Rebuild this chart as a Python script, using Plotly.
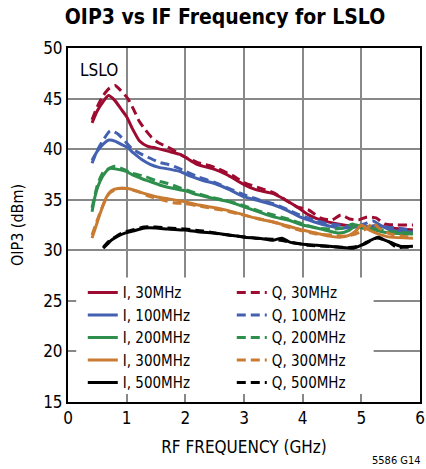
import plotly.graph_objects as go

# ---- data ----
x_i30 = [0.41, 0.5, 0.6, 0.69, 0.8, 0.9, 1.0, 1.1, 1.22, 1.35, 1.5, 1.7, 1.9, 2.0, 2.2, 2.5, 2.7, 3.0, 3.2, 3.5, 3.7, 3.9, 4.1, 4.3, 4.6, 5.0, 5.3, 5.5, 5.88]
y_i30 = [42.6, 43.8, 44.7, 45.3, 44.8, 44.0, 43.2, 42.0, 40.8, 40.3, 40.1, 39.8, 39.5, 39.2, 38.5, 38.0, 37.5, 36.5, 36.0, 35.6, 35.0, 34.3, 33.5, 33.0, 32.6, 32.3, 32.4, 32.2, 32.0]

x_q30 = [0.41, 0.5, 0.6, 0.7, 0.8, 0.9, 1.02, 1.12, 1.22, 1.32, 1.42, 1.55, 1.7, 1.85, 2.0, 2.2, 2.5, 2.8, 3.0, 3.3, 3.5, 3.7, 3.9, 4.1, 4.3, 4.5, 4.65, 4.8, 4.95, 5.1, 5.25, 5.4, 5.6, 5.88]
y_q30 = [42.9, 44.2, 45.3, 46.0, 46.3, 45.8, 45.0, 43.9, 42.7, 41.9, 41.2, 40.6, 40.2, 39.7, 39.2, 38.7, 38.2, 37.4, 36.7, 36.1, 35.7, 35.0, 34.3, 34.0, 33.2, 33.0, 33.5, 33.1, 33.0, 33.3, 33.2, 32.6, 32.5, 32.5]

x_i100 = [0.41, 0.5, 0.6, 0.7, 0.8, 0.9, 1.0, 1.12, 1.25, 1.4, 1.55, 1.75, 1.9, 2.1, 2.3, 2.5, 2.75, 3.0, 3.25, 3.5, 3.75, 3.95, 4.2, 4.45, 4.65, 4.9, 5.1, 5.3, 5.5, 5.88]
y_i100 = [38.9, 39.8, 40.5, 40.9, 40.8, 40.5, 40.2, 39.6, 39.0, 38.5, 38.2, 38.0, 37.8, 37.3, 36.9, 36.6, 36.0, 35.3, 34.9, 34.5, 33.9, 33.3, 32.8, 32.4, 32.2, 32.3, 32.3, 32.5, 32.0, 31.8]

x_q100 = [0.41, 0.5, 0.6, 0.72, 0.85, 0.97, 1.1, 1.25, 1.4, 1.55, 1.7, 1.85, 2.0, 2.2, 2.5, 2.75, 3.0, 3.25, 3.5, 3.75, 3.95, 4.2, 4.45, 4.65, 4.85, 5.05, 5.2, 5.35, 5.6, 5.88]
y_q100 = [38.6, 39.9, 40.9, 41.8, 41.5, 40.8, 40.0, 39.5, 39.1, 38.7, 38.5, 38.2, 37.8, 37.3, 36.7, 36.1, 35.5, 35.0, 34.6, 34.0, 33.5, 33.0, 32.6, 32.5, 32.3, 32.6, 32.9, 32.4, 32.2, 32.0]

x_i200 = [0.41, 0.46, 0.51, 0.6, 0.71, 0.85, 0.99, 1.12, 1.25, 1.4, 1.59, 1.8, 1.99, 2.2, 2.5, 2.75, 3.0, 3.25, 3.5, 3.75, 4.0, 4.24, 4.45, 4.63, 4.8, 4.92, 5.02, 5.14, 5.3, 5.49, 5.88]
y_i200 = [33.8, 35.3, 36.3, 37.4, 38.1, 38.0, 37.8, 37.4, 37.1, 36.8, 36.4, 36.1, 35.9, 35.5, 35.1, 34.8, 34.3, 33.8, 33.3, 33.0, 32.5, 32.2, 31.9, 31.7, 32.0, 32.5, 32.2, 32.2, 31.9, 31.7, 31.6]

x_q200 = [0.41, 0.5, 0.6, 0.8, 0.95, 1.1, 1.31, 1.5, 1.7, 1.9, 2.1, 2.4, 2.7, 3.0, 3.25, 3.5, 3.75, 4.0, 4.25, 4.5, 4.7, 4.85, 5.0, 5.2, 5.4, 5.6, 5.88]
y_q200 = [34.2, 36.4, 37.7, 38.3, 38.0, 37.6, 37.3, 36.9, 36.6, 36.2, 35.8, 35.3, 34.9, 34.4, 33.9, 33.5, 33.1, 32.6, 32.2, 32.1, 32.2, 32.6, 32.2, 32.3, 31.9, 31.8, 31.7]

x_i300 = [0.41, 0.5, 0.57, 0.65, 0.74, 0.85, 1.02, 1.15, 1.31, 1.5, 1.7, 1.99, 2.2, 2.5, 2.75, 3.0, 3.25, 3.5, 3.75, 4.0, 4.24, 4.45, 4.63, 4.8, 4.92, 5.0, 5.1, 5.25, 5.49, 5.88]
y_i300 = [31.2, 32.8, 34.0, 35.2, 35.9, 36.1, 36.1, 35.9, 35.6, 35.3, 35.1, 34.8, 34.5, 34.2, 33.9, 33.5, 33.1, 32.8, 32.4, 32.0, 31.7, 31.4, 31.3, 31.5, 32.0, 32.5, 32.1, 31.7, 31.3, 31.2]

x_q300 = [0.41, 0.5, 0.6, 0.7, 0.85, 1.0, 1.2, 1.4, 1.6, 1.8, 2.0, 2.3, 2.6, 2.9, 3.2, 3.5, 3.75, 4.0, 4.25, 4.5, 4.7, 4.9, 5.1, 5.2, 5.3, 5.5, 5.7, 5.88]
y_q300 = [31.5, 33.0, 34.5, 35.6, 36.1, 36.1, 35.8, 35.3, 35.0, 34.7, 34.6, 34.3, 34.0, 33.6, 33.2, 32.8, 32.3, 31.9, 31.6, 31.5, 31.4, 31.6, 32.2, 32.7, 32.2, 31.6, 31.4, 31.3]

x_i500 = [0.6, 0.67, 0.74, 0.85, 0.97, 1.1, 1.31, 1.5, 1.7, 1.99, 2.25, 2.5, 2.75, 3.0, 3.25, 3.5, 3.65, 3.78, 4.0, 4.24, 4.45, 4.63, 4.86, 5.0, 5.09, 5.29, 5.4, 5.49, 5.66, 5.88]
y_i500 = [30.2, 30.6, 31.0, 31.4, 31.7, 31.9, 32.2, 32.2, 32.1, 32.0, 31.8, 31.7, 31.5, 31.3, 31.2, 31.0, 31.2, 30.8, 30.6, 30.5, 30.4, 30.3, 30.2, 30.5, 30.8, 31.3, 31.0, 30.8, 30.4, 30.4]

x_q500 = [0.6, 0.7, 0.8, 0.95, 1.1, 1.3, 1.5, 1.7, 2.0, 2.3, 2.6, 2.9, 3.2, 3.5, 3.8, 4.1, 4.4, 4.65, 4.85, 5.05, 5.25, 5.45, 5.6, 5.75, 5.88]
y_q500 = [30.3, 30.9, 31.3, 31.8, 32.0, 32.3, 32.3, 32.2, 32.1, 31.9, 31.6, 31.4, 31.2, 31.1, 30.8, 30.5, 30.4, 30.3, 30.3, 30.6, 31.2, 30.9, 30.3, 30.3, 30.3]

names = ["I, 30MHz", "Q, 30MHz", "I, 100MHz", "Q, 100MHz", "I, 200MHz", "Q, 200MHz",
         "I, 300MHz", "Q, 300MHz", "I, 500MHz", "Q, 500MHz"]
xs = [x_i30, x_q30, x_i100, x_q100, x_i200, x_q200, x_i300, x_q300, x_i500, x_q500]
ys = [y_i30, y_q30, y_i100, y_q100, y_i200, y_q200, y_i300, y_q300, y_i500, y_q500]

x_ticks = [0, 1, 2, 3, 4, 5, 6]
y_ticks = [15, 20, 25, 30, 35, 40, 45, 50]

# ---- styling ----
colors = ["#9E0B30", "#9E0B30", "#4361B0", "#4361B0", "#2E8E4C", "#2E8E4C",
          "#C97B32", "#C97B32", "#000000", "#000000"]
dashes = ["solid", "9px,5px"] * 5
FONT = "DejaVu Sans Condensed, Liberation Sans Narrow, Roboto, Arial, sans-serif"

fig = go.Figure()
for n, x, y, c, d in zip(names, xs, ys, colors, dashes):
    fig.add_trace(go.Scatter(x=x, y=y, name=n, mode="lines",
                             line=dict(color=c, width=3, dash=d, shape="spline", smoothing=0.6)))

# white box behind the legend (legend covers the grid)
fig.add_shape(type="rect", xref="x", yref="y", x0=0.14, x1=5.21, y0=15.8, y1=27.3,
              fillcolor="white", line=dict(width=0), layer="above")

fig.update_layout(
    width=426, height=469,
    margin=dict(l=68, r=6, t=48, b=67, autoexpand=False),
    paper_bgcolor="white", plot_bgcolor="white",
    font=dict(family=FONT, size=17, color="black"),
    title=dict(text="<b>OIP3 vs IF Frequency for LSLO</b>", x=225 / 426, xanchor="center",
               y=1 - 17 / 469, yanchor="middle", font=dict(family=FONT, size=21, color="black")),
    xaxis=dict(range=[0, 6], tickvals=x_ticks, showgrid=True, gridcolor="#888888", gridwidth=1.5,
               showline=True, linecolor="black", linewidth=2, mirror=True, zeroline=False,
               ticks="", tickfont=dict(size=17), automargin=False,
               title=dict(text="RF FREQUENCY (GHz)", font=dict(size=17), standoff=14)),
    yaxis=dict(range=[15, 50], tickvals=y_ticks, showgrid=True, gridcolor="#888888", gridwidth=1.5,
               showline=True, linecolor="black", linewidth=2, mirror=True, zeroline=False,
               ticks="", tickfont=dict(size=17), automargin=False,
               title=dict(text="OIP3 (dBm)", font=dict(size=16), standoff=16)),
    showlegend=True,
    legend=dict(orientation="h", x=0.042, xanchor="left", y=0.355, yanchor="top",
                bgcolor="rgba(0,0,0,0)", borderwidth=0, entrywidth=104, entrywidthmode="pixels",
                font=dict(family=FONT, size=15, color="black"), traceorder="normal"),
    annotations=[
        dict(text="LSLO", xref="paper", yref="paper", x=0.028, y=0.938, xanchor="left",
             yanchor="middle", showarrow=False, font=dict(family=FONT, size=17)),
        dict(text="5586 G14", xref="paper", yref="paper", x=1.0085, y=-0.164, xanchor="right",
             yanchor="middle", showarrow=False, font=dict(family=FONT, size=11)),
    ],
)

fig.write_html("out.html", config={"displayModeBar": False},
               post_script="document.body.style.margin='0';")
